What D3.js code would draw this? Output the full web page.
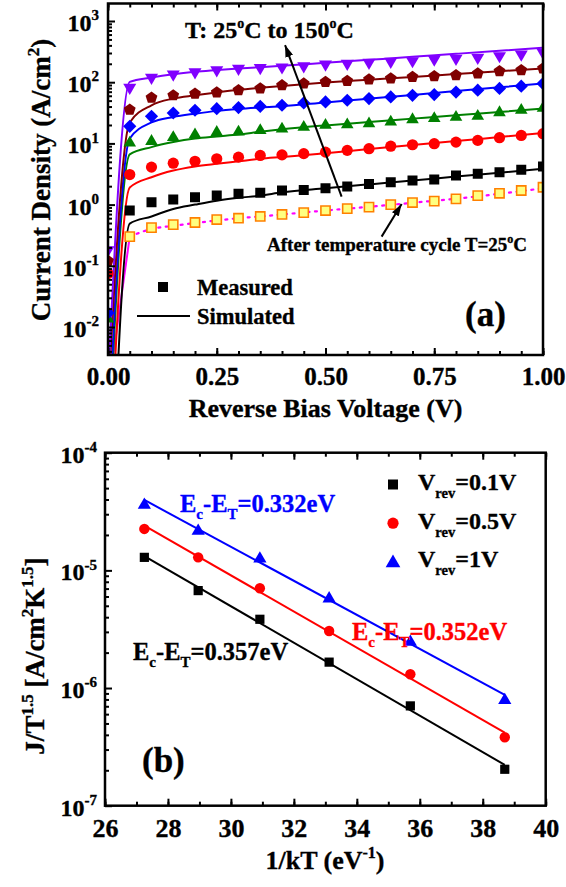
<!DOCTYPE html>
<html><head><meta charset="utf-8">
<script src="https://cdn.jsdelivr.net/npm/d3@7"></script>
<style>
body{margin:0;background:#fff;}
svg text{font-family:'Liberation Serif','Times New Roman',serif;font-weight:bold;fill:#000;stroke:currentColor;stroke-width:0.35px;}
</style></head><body>
<svg id="c" width="566" height="887"></svg>
<script>
// ---------- DATA: panel (a) ----------
const voltage = [0,0.05,0.1,0.15,0.2,0.25,0.3,0.35,0.4,0.45,0.5,0.55,0.6,0.65,0.7,0.75,0.8,0.85,0.9,0.95,1.0];
const meas25  = [null,0.8,1.09,1.21,1.32,1.41,1.5,1.56,1.7,1.74,1.85,1.97,2.18,2.32,2.47,2.57,2.99,3.18,3.39,3.7,4.2];
const meas50  = [0.075,3.1,4.1,4.75,5.1,5.6,5.96,6.35,6.5,6.8,7.2,7.7,8.2,9.0,9.5,9.9,10.5,11.2,12.4,13.5,14.4];
const meas75  = [0.014,10.5,11.2,13,14.4,15.7,15.9,16.8,17.8,19,20.5,21,21.8,23.2,25.4,26.4,27.7,28.8,33,36,39];
const meas100 = [0.017,19,27.7,31.4,34.8,37,38.5,40.4,42,45.8,47.6,50.7,54,57.5,61,62.8,69,74,79,86,95];
const meas125 = [0.12,35.6,56,61,65,68,74,79,89,95,101,105,111,115,122,125,130,139,151,157,168];
const meas150 = [0.176,79,115,130,142,153,162,166,170,178,190,195,202,210,215,229,236,244,260,277,295];
const measCycle = [null,0.3,0.42,0.47,0.51,0.57,0.6,0.64,0.69,0.74,0.80,0.86,0.91,1.0,1.08,1.14,1.24,1.4,1.53,1.7,1.92];

const simVoltage = [0,0.05,0.1,0.15,0.2,0.25,0.3,0.35,0.4,0.5,0.6,0.7,0.8,0.9,1.0];
const sim25  = [2.5e-7,0.49,0.64,0.85,1.0,1.16,1.29,1.4,1.59,1.85,2.14,2.47,2.87,3.32,3.85];
const sim50  = [1.05e-5,1.9,2.8,3.6,4.2,4.65,5.1,5.6,6.0,6.9,8.1,9.4,10.9,12.7,14.8];
const sim75  = [7e-5,6.6,8.7,10.5,12,13,14,15.5,17,19.7,22.4,25.4,28.8,32.6,37];
const sim100 = [1.45e-4,12,22,27,30.6,34,36.5,38.5,40.4,46.7,53.8,62,71.5,82.4,95];
const sim125 = [6.5e-4,22,42,54,61,68,75,81,87,99,110,122,136,151,168];
const sim150 = [1.2e-3,101,119,135,148,158,168,176,185,207,232,260,291,326,366];
const simCycle = [8.5e-4,0.3,0.4,0.45,0.5,0.55,0.6,0.64,0.69,0.8,0.92,1.07,1.25,1.5,1.85];

const xTicksA = [0,0.25,0.5,0.75,1.0];
const yDecadesA = [1e-2,1e-1,1,10,100,1000];

// ---------- DATA: panel (b) ----------
const invkT = [27.25,28.96,30.92,33.12,35.7,38.7];
const jV01 = [1.29e-5,6.73e-6,3.84e-6,1.66e-6,7.05e-7,2.04e-7];
const jV05 = [2.25e-5,1.29e-5,7.05e-6,3.05e-6,1.31e-6,3.82e-7];
const jV1  = [3.66e-5,2.2e-5,1.28e-5,5.86e-6,2.51e-6,8.03e-7];
const xTicksB = [26,28,30,32,34,36,38,40];
const yDecadesB = [1e-7,1e-6,1e-5,1e-4];

// ---------- helpers ----------
const svg = d3.select('#c');
function shapeType(shape){
  return {draw(p, r){
    if(shape==='square'){p.rect(-r,-r,2*r,2*r);}
    else if(shape==='circle'){p.moveTo(r,0);p.arc(0,0,r,0,2*Math.PI);}
    else if(shape==='tri'){p.moveTo(0,-r*1.05);p.lineTo(r*1.05,r*0.75);p.lineTo(-r*1.05,r*0.75);p.closePath();}
    else if(shape==='dtri'){p.moveTo(0,r*1.05);p.lineTo(r*1.05,-r*0.75);p.lineTo(-r*1.05,-r*0.75);p.closePath();}
    else if(shape==='diamond'){p.moveTo(0,-r);p.lineTo(r,0);p.lineTo(0,r);p.lineTo(-r,0);p.closePath();}
    else if(shape==='pent'){for(let i=0;i<5;i++){const a=-Math.PI/2+i*2*Math.PI/5;const px=r*Math.cos(a),py=r*Math.sin(a);if(i===0)p.moveTo(px,py);else p.lineTo(px,py);}p.closePath();}
  }};
}
function sym(shape,r){return d3.symbol().type(shapeType(shape)).size(r)();}
function styleAxis(g, fs){
  g.select('.domain').remove();
  g.selectAll('.tick line').attr('stroke','#000').attr('stroke-width',2);
  g.selectAll('.tick text').attr('font-size',fs).attr('fill','#000')
   .style('font-family',"'Liberation Serif','Times New Roman',serif").style('font-weight','bold')
   .style('stroke','#000').style('stroke-width','0.35px');
}
function powLabel(g, x, y, exp, fs, sfs){
  const t = g.append('text').attr('x',x).attr('y',y).attr('text-anchor','end').attr('font-size',fs);
  t.append('tspan').text('10');
  t.append('tspan').attr('dy',-fs*0.45).attr('font-size',sfs).text(exp);
}

const defs = svg.append('defs');
defs.append('marker').attr('id','ah').attr('viewBox','0 0 12 8').attr('refX',12).attr('refY',4)
  .attr('markerWidth',12).attr('markerHeight',8).attr('markerUnits','userSpaceOnUse').attr('orient','auto')
  .append('path').attr('d','M0,0 L12,4 L0,8 Z').attr('fill','#000');

// ================= PANEL (a) =================
const xA = d3.scaleLinear().domain([0,1]).range([108,543]);
const yA = d3.scaleLog().domain([Math.pow(10,-2.4575),Math.pow(10,3.286)]).range([355,3.5]);
defs.append('clipPath').attr('id','clipA').append('rect')
  .attr('x',108).attr('y',3.5).attr('width',435).attr('height',351.5);

const gA = svg.append('g');
const plotA = gA.append('g').attr('clip-path','url(#clipA)');

const seriesA = [
  {meas:meas25, sim:sim25, color:'#000000', shape:'square', r:5},
  {meas:meas50, sim:sim50, color:'#ff0000', shape:'circle', r:5.6},
  {meas:meas75, sim:sim75, color:'#008000', shape:'tri', r:6},
  {meas:meas100, sim:sim100, color:'#0000ff', shape:'diamond', r:6.6},
  {meas:meas125, sim:sim125, color:'#800000', shape:'pent', r:6.2},
  {meas:meas150, sim:sim150, color:'#8000ff', shape:'dtri', r:6.2}
];
const lineA = d3.line().x(d=>xA(d[0])).y(d=>yA(d[1])).curve(d3.curveMonotoneX);

const cyc = simVoltage.map((v,i)=>[v,simCycle[i]]);
plotA.append('path').attr('d',lineA(cyc.slice(0,2))).attr('fill','none').attr('stroke','#ff00ff').attr('stroke-width',2);
plotA.append('path').attr('d',lineA(cyc.slice(1))).attr('fill','none').attr('stroke','#ff00ff')
  .attr('stroke-width',2.2).attr('stroke-dasharray','2,5.5').attr('stroke-linecap','round');

seriesA.forEach(s=>{
  plotA.append('path').attr('d',lineA(simVoltage.map((v,i)=>[v,s.sim[i]])))
    .attr('fill','none').attr('stroke',s.color).attr('stroke-width',2);
});
plotA.selectAll('.cyc').data(voltage.map((v,i)=>[v,measCycle[i]]).filter(d=>d[1]!=null)).enter()
  .append('path').attr('transform',d=>`translate(${xA(d[0])},${yA(d[1])})`)
  .attr('d',sym('square',4.6)).attr('fill','#ffff80').attr('stroke','#ff8000').attr('stroke-width',1.6);
seriesA.forEach(s=>{
  plotA.selectAll(null).data(voltage.map((v,i)=>[v,s.meas[i]]).filter(d=>d[1]!=null)).enter()
    .append('path').attr('transform',d=>`translate(${xA(d[0])},${yA(d[1])})`)
    .attr('d',sym(s.shape,s.r)).attr('fill',s.color);
});

// axes (a)
const minorX = d3.range(0,1.0001,0.05);
styleAxis(gA.append('g').attr('transform','translate(0,355)').call(d3.axisBottom(xA).tickValues(minorX).tickSize(-4).tickFormat('')),25);
styleAxis(gA.append('g').attr('transform','translate(0,355)').call(d3.axisBottom(xA).tickValues(xTicksA).tickSize(-7).tickPadding(12).tickFormat(d3.format('.2f'))),25);
styleAxis(gA.append('g').attr('transform','translate(0,3.5)').call(d3.axisTop(xA).tickValues(minorX).tickSize(-4).tickFormat('')),25);
styleAxis(gA.append('g').attr('transform','translate(0,3.5)').call(d3.axisTop(xA).tickValues(xTicksA).tickSize(-7).tickFormat('')),25);
const minorYA = yA.ticks().filter(v=>Math.abs(Math.log10(v)-Math.round(Math.log10(v)))>1e-6);
styleAxis(gA.append('g').attr('transform','translate(108,0)').call(d3.axisLeft(yA).tickValues(minorYA).tickSize(-4).tickFormat('')),24);
styleAxis(gA.append('g').attr('transform','translate(108,0)').call(d3.axisLeft(yA).tickValues(yDecadesA).tickSize(-7).tickFormat('')),24);
yDecadesA.forEach(d=>powLabel(gA, 99, yA(d)+10, String(Math.round(Math.log10(d))), 24, 15));
gA.append('rect').attr('x',108).attr('y',3.5).attr('width',435).attr('height',351.5)
  .attr('fill','none').attr('stroke','#000').attr('stroke-width',2.5);

// titles (a)
gA.append('text').attr('x',325.5).attr('y',417).attr('text-anchor','middle').attr('font-size',26).text('Reverse Bias Voltage (V)');
{
  const t = gA.append('text').attr('transform','translate(50,180) rotate(-90)').attr('text-anchor','middle').attr('font-size',27);
  t.append('tspan').text('Current Density (A/cm');
  t.append('tspan').attr('dy',-11).attr('font-size',17).text('2');
  t.append('tspan').attr('dy',11).text(')');
}
{
  const t = gA.append('text').attr('x',185).attr('y',38).attr('font-size',24);
  t.append('tspan').text('T: 25');
  t.append('tspan').attr('dy',-10).attr('font-size',14).text('o');
  t.append('tspan').attr('dy',10).text('C to 150');
  t.append('tspan').attr('dy',-10).attr('font-size',14).text('o');
  t.append('tspan').attr('dy',10).text('C');
}
{
  const t = gA.append('text').attr('x',267).attr('y',251).attr('font-size',19);
  t.append('tspan').text('After temperature cycle T=25');
  t.append('tspan').attr('dy',-8).attr('font-size',12).text('o');
  t.append('tspan').attr('dy',8).text('C');
}
const arrowsA = [[0.537,1.35,0.407,405],[0.629,0.30,0.675,1.02]];
arrowsA.forEach(a=>{
  gA.append('line').attr('x1',xA(a[0])).attr('y1',yA(a[1])).attr('x2',xA(a[2])).attr('y2',yA(a[3]))
    .attr('stroke','#000').attr('stroke-width',2).attr('marker-end','url(#ah)');
});
gA.append('path').attr('transform','translate(163,287)').attr('d',sym('square',5)).attr('fill','#000');
gA.append('text').attr('x',197).attr('y',295).attr('font-size',22.5).text('Measured');
gA.append('line').attr('x1',137).attr('x2',190).attr('y1',316).attr('y2',316).attr('stroke','#000').attr('stroke-width',2);
gA.append('text').attr('x',197).attr('y',324).attr('font-size',22.5).text('Simulated');
gA.append('text').attr('x',465).attr('y',326).attr('font-size',35).text('(a)');

// ================= PANEL (b) =================
const xB = d3.scaleLinear().domain([26,40]).range([105,545.7]);
const yB = d3.scaleLog().domain([1e-7,1e-4]).range([805.7,452.7]);
const gB = svg.append('g');

function fitLine(xs, ys){
  const ly = ys.map(Math.log10);
  const mx = d3.mean(xs), my = d3.mean(ly);
  let num=0, den=0;
  xs.forEach((x,i)=>{num+=(x-mx)*(ly[i]-my);den+=(x-mx)*(x-mx);});
  const b=num/den, a=my-b*mx;
  const x0=xs[0], x1=xs[xs.length-1];
  return [[x0,Math.pow(10,a+b*x0)],[x1,Math.pow(10,a+b*x1)]];
}
const seriesB = [
  {y:jV01, color:'#000000', shape:'square', r:4.6},
  {y:jV05, color:'#ff0000', shape:'circle', r:5.2},
  {y:jV1,  color:'#0000ff', shape:'tri', r:6.3}
];
const lineB = d3.line().x(d=>xB(d[0])).y(d=>yB(d[1]));
seriesB.forEach(s=>{
  gB.append('path').attr('d',lineB(fitLine(invkT,s.y))).attr('fill','none').attr('stroke',s.color).attr('stroke-width',2);
});
seriesB.forEach(s=>{
  gB.selectAll(null).data(invkT.map((x,i)=>[x,s.y[i]])).enter()
    .append('path').attr('transform',d=>`translate(${xB(d[0])},${yB(d[1])})`)
    .attr('d',sym(s.shape,s.r)).attr('fill',s.color);
});

const minorXB = d3.range(26,40.001,1);
styleAxis(gB.append('g').attr('transform','translate(0,805.7)').call(d3.axisBottom(xB).tickValues(minorXB).tickSize(-4).tickFormat('')),26);
styleAxis(gB.append('g').attr('transform','translate(0,805.7)').call(d3.axisBottom(xB).tickValues(xTicksB).tickSize(-7).tickPadding(13).tickFormat(d3.format('d'))),26);
styleAxis(gB.append('g').attr('transform','translate(0,452.7)').call(d3.axisTop(xB).tickValues(minorXB).tickSize(-4).tickFormat('')),26);
styleAxis(gB.append('g').attr('transform','translate(0,452.7)').call(d3.axisTop(xB).tickValues(xTicksB).tickSize(-7).tickFormat('')),26);
const minorYB = yB.ticks().filter(v=>Math.abs(Math.log10(v)-Math.round(Math.log10(v)))>1e-6);
styleAxis(gB.append('g').attr('transform','translate(105,0)').call(d3.axisLeft(yB).tickValues(minorYB).tickSize(-4).tickFormat('')),24);
styleAxis(gB.append('g').attr('transform','translate(105,0)').call(d3.axisLeft(yB).tickValues(yDecadesB).tickSize(-7).tickFormat('')),24);
yDecadesB.forEach(d=>powLabel(gB, 97, yB(d)+10, String(Math.round(Math.log10(d))), 24, 15));
gB.append('rect').attr('x',105).attr('y',452.7).attr('width',440.7).attr('height',353)
  .attr('fill','none').attr('stroke','#000').attr('stroke-width',2.5);

{
  const t = gB.append('text').attr('x',325).attr('y',869).attr('text-anchor','middle').attr('font-size',26);
  t.append('tspan').text('1/kT (eV');
  t.append('tspan').attr('dy',-11).attr('font-size',16).text('-1');
  t.append('tspan').attr('dy',11).text(')');
}
{
  const t = gB.append('text').attr('transform','translate(44,656) rotate(-90)').attr('text-anchor','middle').attr('font-size',27);
  t.append('tspan').text('J/T');
  t.append('tspan').attr('dy',-11).attr('font-size',17).text('1.5');
  t.append('tspan').attr('dy',11).text(' [A/cm');
  t.append('tspan').attr('dy',-11).attr('font-size',17).text('2');
  t.append('tspan').attr('dy',11).text('K');
  t.append('tspan').attr('dy',-11).attr('font-size',17).text('1.5');
  t.append('tspan').attr('dy',11).text(']');
}
const legB = [['0.1V',0],['0.5V',1],['1V',2]];
legB.forEach((l,i)=>{
  const s = seriesB[l[1]];
  const cy = 484.5 + i*38.7;
  gB.append('path').attr('transform',`translate(393,${cy})`).attr('d',sym(s.shape, i===2?7:(i===1?5.6:5))).attr('fill',s.color);
  const t = gB.append('text').attr('x',418).attr('y',cy+5.5).attr('font-size',24);
  t.append('tspan').text('V');
  t.append('tspan').attr('dy',8).attr('font-size',14.5).text('rev');
  t.append('tspan').attr('dy',-8).text('='+l[0]);
});
function energyLabel(x,y,val,color){
  const t = gB.append('text').attr('x',x).attr('y',y).attr('font-size',24.5).style('fill',color).style('color',color);
  t.append('tspan').text('E');
  t.append('tspan').attr('dy',7).attr('font-size',15).text('c');
  t.append('tspan').attr('dy',-7).text('-E');
  t.append('tspan').attr('dy',7).attr('font-size',15).text('T');
  t.append('tspan').attr('dy',-7).text('='+val);
}
energyLabel(180,511.5,'0.332eV','#0000ff');
energyLabel(352,640,'0.352eV','#ff0000');
energyLabel(133,660,'0.357eV','#000000');
gB.append('text').attr('x',142).attr('y',772).attr('font-size',35).text('(b)');
</script>
</body></html>
